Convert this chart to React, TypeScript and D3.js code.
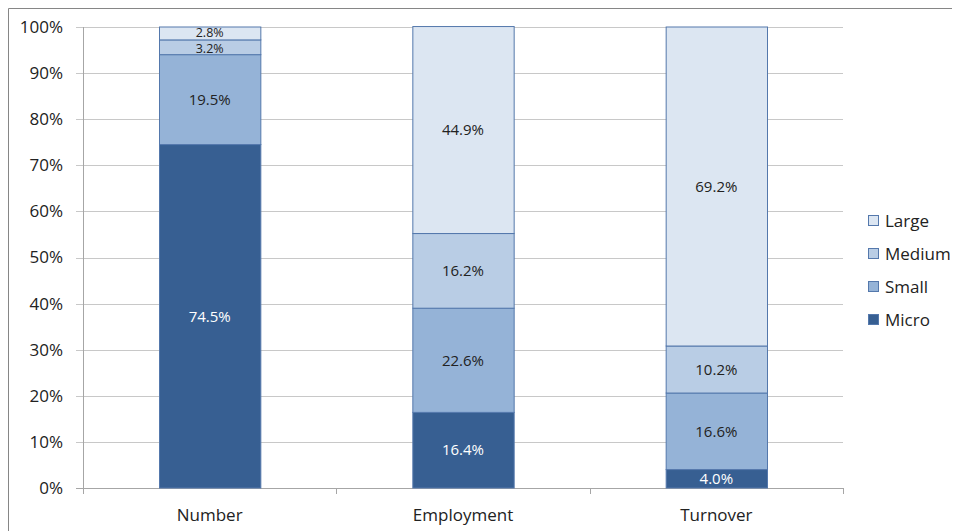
import { useEffect, useRef } from 'react';
import * as d3 from 'd3';

const categories = ['Number', 'Employment', 'Turnover'];
const seriesNames = ['Micro', 'Small', 'Medium', 'Large'];
const micro = [74.5, 16.4, 4.0];
const small = [19.5, 22.6, 16.6];
const medium = [3.2, 16.2, 10.2];
const large = [2.8, 44.9, 69.2];
const yTicks = [0, 10, 20, 30, 40, 50, 60, 70, 80, 90, 100];

const colors = ['#375F92', '#95B3D7', '#B9CDE5', '#DCE6F2'];
const font = '"Open Sans", Lato, sans-serif';

export default function App() {
  const svgRef = useRef<SVGSVGElement>(null);

  useEffect(() => {
    const svg = d3.select(svgRef.current);
    svg.selectAll('*').remove();

    const width = 952;
    const height = 523;
    const margin = { top: 19, left: 75, right: 117, bottom: 43 };

    // frame of the chart (only left and top are visible in the crop)
    svg
      .append('path')
      .attr('d', `M0.5,${height}V0.5H${width}`)
      .attr('fill', 'none')
      .attr('stroke', '#868686');

    const x = d3
      .scaleBand()
      .domain(categories)
      .range([margin.left, width - margin.right])
      .paddingInner(0.6)
      .paddingOuter(0.3);

    const y = d3
      .scaleLinear()
      .domain([0, 100])
      .range([height - margin.bottom, margin.top]);

    const rows = categories.map((c, i) => ({
      category: c,
      Micro: micro[i],
      Small: small[i],
      Medium: medium[i],
      Large: large[i]
    }));
    const stacked = d3.stack<any>().keys(seriesNames)(rows);

    // gridlines
    svg
      .append('g')
      .selectAll('line')
      .data(yTicks)
      .enter()
      .append('line')
      .attr('x1', margin.left - 7)
      .attr('x2', width - margin.right)
      .attr('y1', (d) => Math.round(y(d)) + 0.5)
      .attr('y2', (d) => Math.round(y(d)) + 0.5)
      .attr('stroke', (d) => (d === 0 ? '#A6A6A6' : '#C8C8C8'))
      .attr('stroke-width', 1);

    // y axis line
    svg
      .append('line')
      .attr('x1', margin.left + 0.5)
      .attr('x2', margin.left + 0.5)
      .attr('y1', y(100))
      .attr('y2', y(0))
      .attr('stroke', '#A6A6A6');

    svg
      .append('g')
      .selectAll('text')
      .data(yTicks)
      .enter()
      .append('text')
      .attr('x', margin.left - 20)
      .attr('y', (d) => y(d))
      .attr('dy', '0.35em')
      .attr('text-anchor', 'end')
      .attr('font-family', font)
      .attr('font-size', 17)
      .attr('fill', '#222')
      .text((d) => `${d}%`);

    // category tick marks on x axis
    const bandWidthAll = (width - margin.right - margin.left) / categories.length;
    const bandEdges = d3.range(categories.length + 1).map((i) => margin.left + i * bandWidthAll);
    svg
      .append('g')
      .selectAll('line')
      .data(bandEdges)
      .enter()
      .append('line')
      .attr('x1', (d) => Math.round(d) + 0.5)
      .attr('x2', (d) => Math.round(d) + 0.5)
      .attr('y1', y(0))
      .attr('y2', y(0) + 6)
      .attr('stroke', '#A6A6A6');

    svg
      .append('g')
      .selectAll('text')
      .data(categories)
      .enter()
      .append('text')
      .attr('x', (d) => x(d)! + x.bandwidth() / 2)
      .attr('y', y(0) + 27)
      .attr('dy', '0.35em')
      .attr('text-anchor', 'middle')
      .attr('font-family', font)
      .attr('font-size', 17)
      .attr('fill', '#222')
      .text((d) => d);

    // bars
    const layers = svg
      .append('g')
      .selectAll('g')
      .data(stacked)
      .enter()
      .append('g')
      .attr('fill', (_, i) => colors[i]);

    layers
      .selectAll('rect')
      .data((d) => d)
      .enter()
      .append('rect')
      .attr('x', (d) => x(d.data.category)! + 0.5)
      .attr('width', x.bandwidth())
      .attr('y', (d) => y(d[1]))
      .attr('height', (d) => y(d[0]) - y(d[1]))
      .attr('stroke', '#5478AC')
      .attr('stroke-width', 1);

    // value labels; the thin top segments get a smaller font, nudged apart
    const isThin = (v: any) => y(v[0]) - y(v[1]) < 16;
    layers
      .selectAll('text')
      .data((d) => d.map((v) => ({ v, key: d.key })))
      .enter()
      .append('text')
      .attr('x', (d) => x(d.v.data.category)! + x.bandwidth() / 2)
      .attr('y', (d) => {
        const mid = (y(d.v[0]) + y(d.v[1])) / 2;
        if (!isThin(d.v)) return mid;
        return d.key === 'Large' ? mid - 1 : mid + 1;
      })
      .attr('dy', '0.35em')
      .attr('text-anchor', 'middle')
      .attr('font-family', font)
      .attr('font-size', (d) => (isThin(d.v) ? 12.5 : 15))
      .attr('fill', (d) => (d.key === 'Micro' ? '#ffffff' : '#222'))
      .text((d) => `${(d.v[1] - d.v[0]).toFixed(1)}%`);

    // legend
    const legendItems = seriesNames.map((s, i) => ({ s, c: colors[i] })).reverse();
    const legend = svg
      .append('g')
      .selectAll('g')
      .data(legendItems)
      .enter()
      .append('g')
      .attr('transform', (_, i) => `translate(860, ${213 + i * 33})`);

    legend
      .append('rect')
      .attr('x', 0.5)
      .attr('y', -5.5)
      .attr('width', 10)
      .attr('height', 10)
      .attr('fill', (d) => d.c)
      .attr('stroke', '#5478AC');

    legend
      .append('text')
      .attr('x', 17)
      .attr('y', 0)
      .attr('dy', '0.35em')
      .attr('font-family', font)
      .attr('font-size', 17)
      .attr('fill', '#222')
      .text((d) => d.s);
  }, []);

  return <svg ref={svgRef} width={952} height={523} style={{ display: 'block' }} />;
}
